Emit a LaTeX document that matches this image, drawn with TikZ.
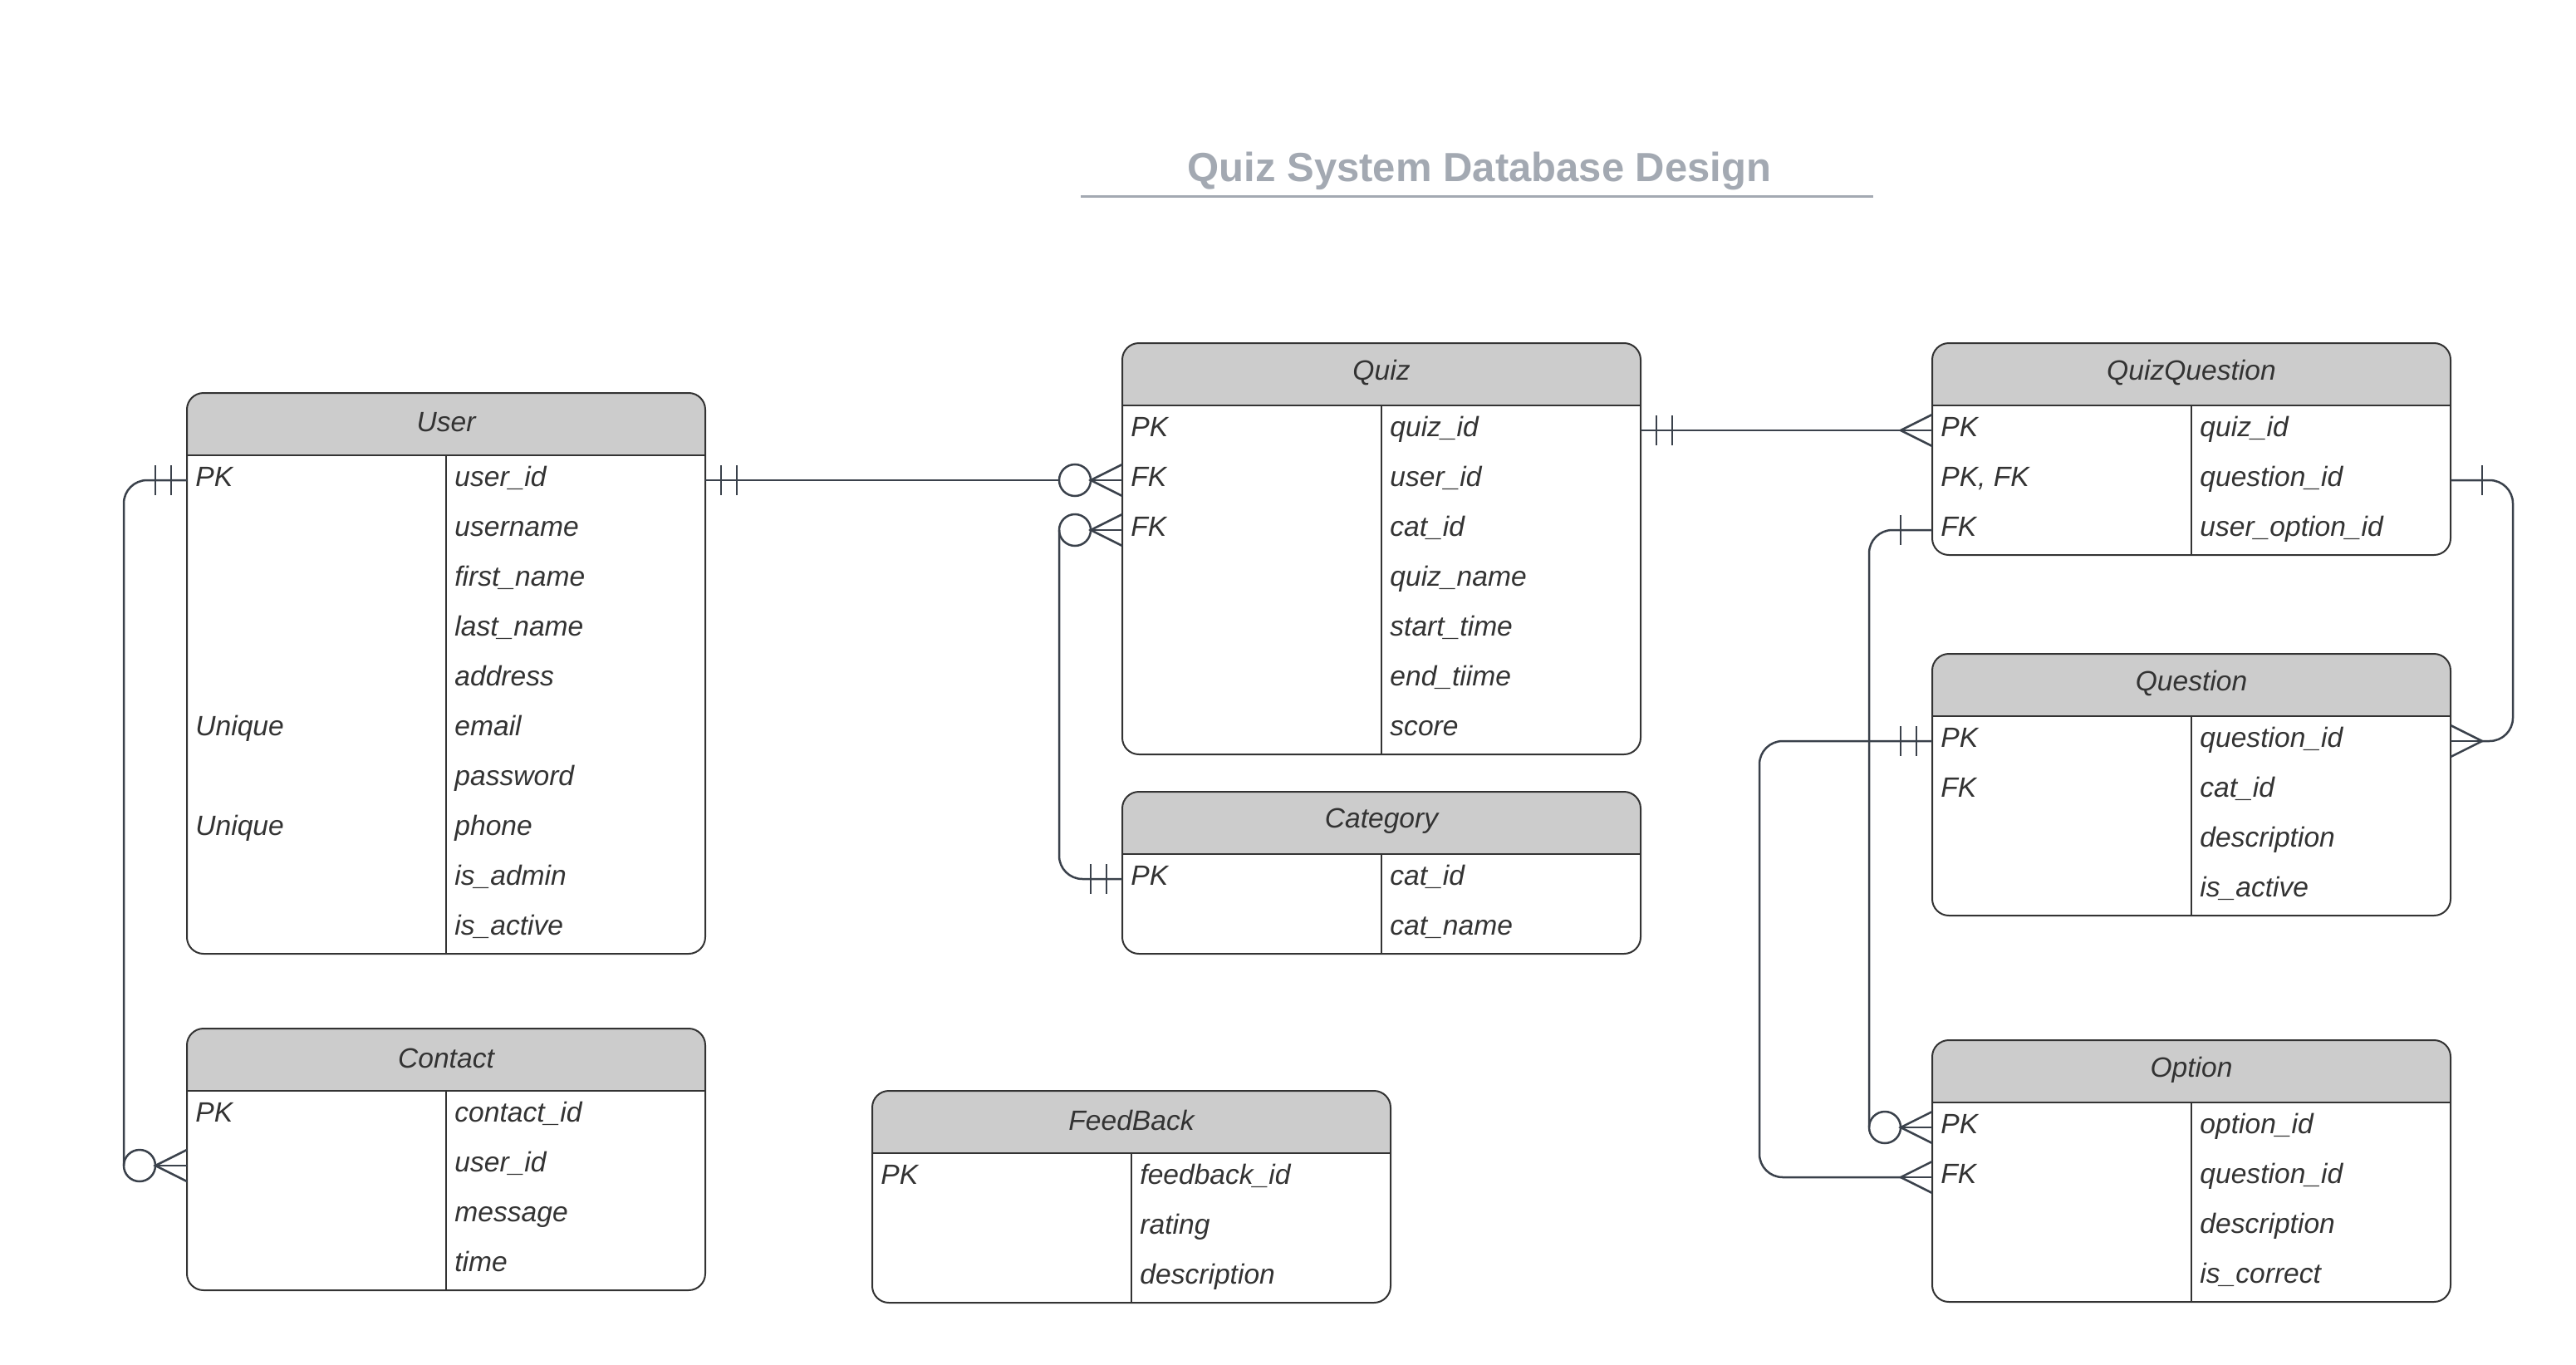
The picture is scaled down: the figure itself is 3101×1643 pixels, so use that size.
\documentclass[tikz,border=0pt]{standalone}
\usepackage{fontspec}
\setmainfont{Liberation Sans}
\usetikzlibrary{calc}
\definecolor{hdrgray}{RGB}{204,204,204}
\definecolor{tblc}{RGB}{51,51,51}
\definecolor{connc}{RGB}{58,65,75}
\definecolor{titlec}{RGB}{163,169,178}
\tikzset{
  hdrfill/.style={fill=hdrgray},
  tblline/.style={draw=tblc,line width=1pt},
  divline/.style={draw=tblc,line width=0.75pt},
  hdrtext/.style={font=\fontsize{16.8}{20}\selectfont\itshape,text=tblc,inner sep=0pt},
  rowbox/.style={minimum width=312pt,minimum height=30pt,inner sep=0pt,outer sep=0pt},
  cell/.style={font=\fontsize{16.8}{20}\selectfont\itshape,text=tblc,anchor=west,inner sep=0pt,text height=12pt,text depth=5pt},
  conn/.style={draw=connc,line width=1.25pt,rounded corners=14},
  crow/.style={draw=connc,line width=1.25pt},
  crowmid/.style={draw=connc,line width=0.8pt},
  titletext/.style={font=\fontsize{24.5}{28}\selectfont\bfseries,text=titlec,inner sep=0pt,anchor=base},
  titleline/.style={draw=titlec,line width=1.5pt}
}
\newcommand\ertbl[5]{%
  \pgfmathsetmacro\erh{75+60*#5}%
  \fill[hdrfill,rounded corners=10] (#2,#3) rectangle (#2+624,#3+75);
  \fill[hdrfill] (#2,#3+40) rectangle (#2+624,#3+75);
  \node[hdrtext] (#1-h) at (#2+312,#3+35.5) {#4};
  \foreach \i in {1,...,#5} {\node[rowbox] (#1-\i) at (#2+312,#3+45+60*\i) {};}
  \draw[tblline] (#2,#3+75) -- (#2+624,#3+75);
  \draw[divline] (#2+312,#3+75) -- (#2+312,#3+\erh);
  \draw[tblline,rounded corners=10] (#2,#3) rectangle (#2+624,#3+\erh);
}
\newcommand\erkey[3]{\node[cell] (#1-#2-k) at ([xshift=5pt]#1-#2.west) {#3};}
\newcommand\erattr[3]{\node[cell] (#1-#2-a) at ([xshift=5pt]#1-#2.center) {#3};}
\newcommand\erbarstwo[2]{%
  \draw[crow] ($(#1)+(#2*19,-18)$) -- ($(#1)+(#2*19,18)$);
  \draw[crow] ($(#1)+(#2*38,-18)$) -- ($(#1)+(#2*38,18)$);}
\newcommand\erbarone[2]{\draw[crow] ($(#1)+(#2*38,-18)$) -- ($(#1)+(#2*38,18)$);}
\newcommand\ercrow[2]{%
  \draw[crow] ($(#1)+(0,-19)$) -- ($(#1)+(#2*38,0)$) -- ($(#1)+(0,19)$);
  \draw[crowmid] ($(#1)+(#2*38,0)$) -- (#1);}
\newcommand\ercrowo[2]{\ercrow{#1}{#2}\draw[crow] ($(#1)+(#2*57,0)$) circle[radius=9.5pt];}
\begin{document}
\begin{tikzpicture}[x=0.5pt,y=-0.5pt]
\fill[white] (0,0) rectangle (3101,1643);
\useasboundingbox (0,0) rectangle (3101,1643);
% title
\node[titletext] (title) at (1781,218) {Quiz System Database Design};
\draw[titleline] (1301,236) -- (2255,236);
% tables
\ertbl{user}{225}{473}{User}{10}
\ertbl{quiz}{1351}{413}{Quiz}{7}
\ertbl{category}{1351}{953}{Category}{2}
\ertbl{qq}{2326}{413}{QuizQuestion}{3}
\ertbl{question}{2326}{787}{Question}{4}
\ertbl{option}{2326}{1252}{Option}{4}
\ertbl{contact}{225}{1238}{Contact}{4}
\ertbl{feedback}{1050}{1313}{FeedBack}{3}
% user
\erkey{user}{1}{PK}\erattr{user}{1}{user\_id}
\erattr{user}{2}{username}
\erattr{user}{3}{first\_name}
\erattr{user}{4}{last\_name}
\erattr{user}{5}{address}
\erkey{user}{6}{Unique}\erattr{user}{6}{email}
\erattr{user}{7}{password}
\erkey{user}{8}{Unique}\erattr{user}{8}{phone}
\erattr{user}{9}{is\_admin}
\erattr{user}{10}{is\_active}
% quiz
\erkey{quiz}{1}{PK}\erattr{quiz}{1}{quiz\_id}
\erkey{quiz}{2}{FK}\erattr{quiz}{2}{user\_id}
\erkey{quiz}{3}{FK}\erattr{quiz}{3}{cat\_id}
\erattr{quiz}{4}{quiz\_name}
\erattr{quiz}{5}{start\_time}
\erattr{quiz}{6}{end\_tiime}
\erattr{quiz}{7}{score}
% category
\erkey{category}{1}{PK}\erattr{category}{1}{cat\_id}
\erattr{category}{2}{cat\_name}
% quizquestion
\erkey{qq}{1}{PK}\erattr{qq}{1}{quiz\_id}
\erkey{qq}{2}{PK, FK}\erattr{qq}{2}{question\_id}
\erkey{qq}{3}{FK}\erattr{qq}{3}{user\_option\_id}
% question
\erkey{question}{1}{PK}\erattr{question}{1}{question\_id}
\erkey{question}{2}{FK}\erattr{question}{2}{cat\_id}
\erattr{question}{3}{description}
\erattr{question}{4}{is\_active}
% option
\erkey{option}{1}{PK}\erattr{option}{1}{option\_id}
\erkey{option}{2}{FK}\erattr{option}{2}{question\_id}
\erattr{option}{3}{description}
\erattr{option}{4}{is\_correct}
% contact
\erkey{contact}{1}{PK}\erattr{contact}{1}{contact\_id}
\erattr{contact}{2}{user\_id}
\erattr{contact}{3}{message}
\erattr{contact}{4}{time}
% feedback
\erkey{feedback}{1}{PK}\erattr{feedback}{1}{feedback\_id}
\erattr{feedback}{2}{rating}
\erattr{feedback}{3}{description}
% connectors
\draw[conn] (user-1.west) -| ($(contact-2.west)+(-76,0)$);
\erbarstwo{user-1.west}{-1}\ercrowo{contact-2.west}{-1}
\draw[conn] (user-1.east) -- ($(quiz-2.west)+(-76,0)$);
\erbarstwo{user-1.east}{1}\ercrowo{quiz-2.west}{-1}
\draw[conn] ($(quiz-3.west)+(-76,0)$) |- (category-1.west);
\ercrowo{quiz-3.west}{-1}\erbarstwo{category-1.west}{-1}
\draw[conn] (quiz-1.east) -- ($(qq-1.west)+(-38,0)$);
\erbarstwo{quiz-1.east}{1}\ercrow{qq-1.west}{-1}
\draw[conn] (qq-3.west) -| ($(option-1.west)+(-76,0)$);
\erbarone{qq-3.west}{-1}\ercrowo{option-1.west}{-1}
\draw[conn] (qq-2.east) -- ++(75,0) |- ($(question-1.east)+(38,0)$);
\erbarone{qq-2.east}{1}\ercrow{question-1.east}{1}
\draw[conn] (question-1.west) -- ++(-208,0) |- ($(option-2.west)+(-38,0)$);
\erbarstwo{question-1.west}{-1}\ercrow{option-2.west}{-1}
\end{tikzpicture}
\end{document}
